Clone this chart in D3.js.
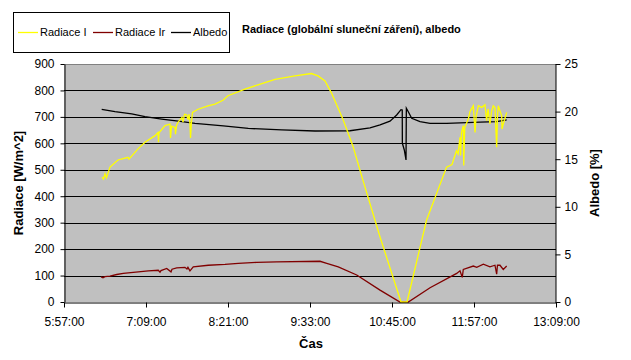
<!DOCTYPE html>
<html>
<head>
<meta charset="utf-8">
<script src="https://cdn.jsdelivr.net/npm/d3@7"></script>
<style>
  body { margin: 0; background: #fff; }
  svg { font-family: "Liberation Sans", Arial, sans-serif; }
</style>
</head>
<body>
<script>
var width = 631,
    height = 360;

// Radiace I [W/m^2]
var radiaceI = [
  ["6:30:22", 472], ["6:31:41", 465], ["6:33:00", 485], ["6:34:19", 470], ["6:37:23", 510],
  ["6:44:25", 537], ["6:53:12", 547], ["6:54:04", 540], ["7:01:58", 579], ["7:08:07", 604],
  ["7:16:54", 629], ["7:19:32", 641], ["7:19:58", 604], ["7:20:25", 640], ["7:25:41", 667],
  ["7:30:04", 673], ["7:30:31", 620], ["7:31:23", 665], ["7:34:28", 660], ["7:34:54", 635],
  ["7:35:47", 668], ["7:37:06", 679], ["7:40:36", 698], ["7:41:30", 680], ["7:42:48", 710],
  ["7:44:36", 708], ["7:45:54", 690], ["7:46:48", 710], ["7:47:36", 675], ["7:48:06", 620],
  ["7:48:54", 680], ["7:49:48", 717], ["7:54:42", 729], ["8:03:24", 742], ["8:09:36", 748],
  ["8:16:36", 763], ["8:21:00", 780], ["8:35:54", 805], ["8:47:18", 821], ["9:02:18", 842],
  ["9:19:48", 855], ["9:34:18", 864], ["9:40:00", 855], ["9:46:12", 836], ["9:51:54", 790],
  ["10:02:00", 690], ["10:10:48", 588], ["10:19:30", 460], ["10:34:30", 246], ["10:52:54", 0],
  ["10:58:12", 0], ["11:15:18", 309], ["11:32:54", 510], ["11:37:42", 520], ["11:41:36", 572],
  ["11:43:00", 560], ["11:44:42", 623], ["11:45:12", 554], ["11:46:00", 640], ["11:47:36", 667],
  ["11:48:00", 516], ["11:48:54", 660], ["11:52:00", 692], ["11:53:30", 720], ["11:56:24", 742],
  ["11:57:54", 641], ["11:58:48", 700], ["12:00:48", 742], ["12:03:48", 736], ["12:06:36", 746],
  ["12:08:06", 686], ["12:09:18", 730], ["12:11:00", 673], ["12:12:24", 720], ["12:13:54", 742],
  ["12:15:24", 735], ["12:16:54", 585], ["12:17:36", 700], ["12:18:18", 742], ["12:21:18", 704],
  ["12:21:36", 654], ["12:22:42", 673], ["12:25:42", 717]
];

// Radiace Ir [W/m^2]
var radiaceIr = [
  ["6:29:29", 95], ["6:31:14", 92], ["6:33:00", 96], ["6:37:23", 98], ["6:43:16", 104],
  ["6:49:04", 108], ["6:57:51", 112], ["7:11:01", 118], ["7:19:48", 120], ["7:21:17", 113],
  ["7:22:10", 119], ["7:27:11", 127], ["7:30:57", 114], ["7:31:50", 124], ["7:35:58", 129],
  ["7:43:12", 131], ["7:44:58", 125], ["7:45:50", 131], ["7:47:36", 118], ["7:50:30", 133],
  ["8:03:42", 139], ["8:18:24", 142], ["8:30:00", 146], ["8:46:12", 150], ["9:03:48", 152],
  ["9:41:48", 154], ["9:47:42", 146], ["9:57:48", 133], ["10:14:00", 102], ["10:34:30", 45],
  ["10:52:00", 0], ["10:59:18", 0], ["11:18:24", 54], ["11:41:48", 108], ["11:44:42", 118],
  ["11:46:42", 93], ["11:47:36", 123], ["11:56:24", 136], ["11:59:24", 131], ["12:05:12", 143],
  ["12:11:00", 133], ["12:15:24", 139], ["12:16:54", 105], ["12:17:36", 139], ["12:19:48", 139],
  ["12:22:42", 123], ["12:25:42", 136]
];

// Albedo [%]
var albedo = [
  ["6:30:06", 20.24], ["6:41:47", 20.0], ["6:56:26", 19.75], ["7:08:07", 19.47], ["7:22:47", 19.22],
  ["7:37:24", 19.0], ["7:52:00", 18.77], ["8:16:54", 18.49], ["8:38:48", 18.24], ["9:08:12", 18.07],
  ["9:37:24", 17.96], ["10:08:06", 17.99], ["10:25:42", 18.3], ["10:34:30", 18.6], ["10:43:14", 19.0],
  ["10:49:06", 19.64], ["10:52:54", 20.2], ["10:54:00", 20.17], ["10:54:06", 16.67], ["10:55:48", 15.97],
  ["10:57:18", 14.92], ["10:57:36", 20.35], ["10:59:18", 19.99], ["11:02:18", 19.3], ["11:09:36", 18.94],
  ["11:18:24", 18.77], ["11:33:00", 18.77], ["12:02:18", 18.9], ["12:16:54", 18.94], ["12:25:42", 19.12]
];

var timeTicks = ["5:57:00", "7:09:00", "8:21:00", "9:33:00", "10:45:00", "11:57:00", "13:09:00"];
var radTicks = [0, 100, 200, 300, 400, 500, 600, 700, 800, 900];
var albTicks = [0, 5, 10, 15, 20, 25];

var parseTime = d3.timeParse("%H:%M:%S");
var fmtTime = d3.timeFormat("%-H:%M:%S");

var plot = { left: 64, right: 556, top: 64, bottom: 302 };

var svg = d3.select("body").append("svg")
            .attr("width", width)
            .attr("height", height);

var x = d3.scaleTime()
          .domain([parseTime(timeTicks[0]), parseTime(timeTicks[timeTicks.length - 1])])
          .range([plot.left, plot.right]);

var yRad = d3.scaleLinear().domain([0, 900]).range([plot.bottom, plot.top]);
var yAlb = d3.scaleLinear().domain([0, 25]).range([plot.bottom, plot.top]);

// plot background
svg.append("rect")
   .attr("x", plot.left)
   .attr("y", plot.top)
   .attr("width", plot.right - plot.left)
   .attr("height", plot.bottom - plot.top)
   .attr("fill", "#c0c0c0");

// gridlines
svg.append("g")
   .selectAll("line")
   .data(radTicks.filter(function(d) { return d > 0 && d < 900; }))
   .enter()
   .append("line")
   .attr("x1", plot.left)
   .attr("x2", plot.right)
   .attr("y1", function(d) { return Math.round(yRad(d)) + 0.5; })
   .attr("y2", function(d) { return Math.round(yRad(d)) + 0.5; })
   .attr("stroke", "black")
   .attr("stroke-width", 1);

// top border
svg.append("line")
   .attr("x1", plot.left).attr("x2", plot.right)
   .attr("y1", plot.top + 0.5).attr("y2", plot.top + 0.5)
   .attr("stroke", "#808080");

// series
function drawLine(data, yScale, color) {
  var line = d3.line()
               .x(function(d) { return x(parseTime(d[0])); })
               .y(function(d) { return yScale(d[1]); });
  svg.append("path")
     .datum(data)
     .attr("d", line)
     .attr("fill", "none")
     .attr("stroke", color)
     .attr("stroke-width", 1.3);
}

drawLine(radiaceIr, yRad, "#800000");
drawLine(albedo, yAlb, "#000000");
drawLine(radiaceI, yRad, "#ffff00");

// axes
var axisFont = function(g) {
  g.selectAll("text").attr("font-size", 12).attr("fill", "black").attr("font-family", "Liberation Sans, Arial, sans-serif");
  g.selectAll("path, line").attr("stroke", "black");
};

svg.append("g")
   .attr("transform", "translate(" + (plot.left + 0.5) + ",0)")
   .call(d3.axisLeft(yRad).tickValues(radTicks).tickSizeInner(4).tickSizeOuter(0).tickPadding(6))
   .call(axisFont);

svg.append("g")
   .attr("transform", "translate(" + (plot.right - 0.5) + ",0)")
   .call(d3.axisRight(yAlb).tickValues(albTicks).tickSizeInner(5).tickSizeOuter(0).tickPadding(4))
   .call(axisFont);

svg.append("g")
   .attr("transform", "translate(0," + (plot.bottom + 0.5) + ")")
   .call(d3.axisBottom(x).tickValues(timeTicks.map(parseTime)).tickFormat(fmtTime)
           .tickSizeInner(5).tickSizeOuter(0).tickPadding(10))
   .call(axisFont);

// axis titles
svg.append("text")
   .attr("transform", "translate(23,183)rotate(-90)")
   .attr("text-anchor", "middle")
   .attr("font-size", 13)
   .attr("font-weight", "bold")
   .text("Radiace [W/m^2]");

svg.append("text")
   .attr("transform", "translate(599,183)rotate(-90)")
   .attr("text-anchor", "middle")
   .attr("font-size", 13)
   .attr("font-weight", "bold")
   .text("Albedo [%]");

svg.append("text")
   .attr("x", 311)
   .attr("y", 348)
   .attr("text-anchor", "middle")
   .attr("font-size", 13)
   .attr("font-weight", "bold")
   .text("Čas");

// title
svg.append("text")
   .attr("x", 242)
   .attr("y", 33)
   .attr("font-size", 11)
   .attr("font-weight", "bold")
   .text("Radiace (globální sluneční záření), albedo");

// legend
var legendItems = [
  { name: "Radiace I", color: "#ffff00", x: 18 },
  { name: "Radiace Ir", color: "#800000", x: 93 },
  { name: "Albedo", color: "#000000", x: 171 }
];

var legend = svg.append("g");
legend.append("rect")
      .attr("x", 13.5).attr("y", 12.5)
      .attr("width", 216).attr("height", 40)
      .attr("fill", "white").attr("stroke", "black");

var li = legend.selectAll("g.item")
               .data(legendItems)
               .enter()
               .append("g")
               .attr("class", "item")
               .attr("transform", function(d) { return "translate(" + d.x + ",32)"; });

li.append("line")
  .attr("x1", 0).attr("x2", 20)
  .attr("y1", 0.5).attr("y2", 0.5)
  .attr("stroke", function(d) { return d.color; })
  .attr("stroke-width", 1.3);

li.append("text")
  .attr("x", 22)
  .attr("y", 4)
  .attr("font-size", 11)
  .text(function(d) { return d.name; });
</script>
</body>
</html>
